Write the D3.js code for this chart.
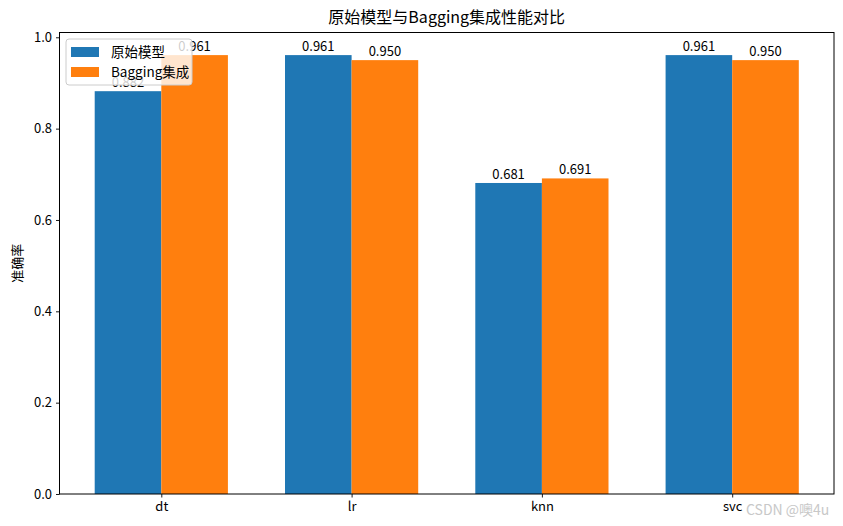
<!DOCTYPE html>
<html><head><meta charset="utf-8">
<script src="https://cdn.jsdelivr.net/npm/d3@7"></script>
<style>body{margin:0;background:#fff}svg{display:block}text{font-family:"Noto Sans CJK SC","DejaVu Sans",sans-serif}</style>
</head><body>
<script>
const categories = ["dt", "lr", "knn", "svc"];
const seriesNames = ["原始模型", "Bagging集成"];
const originalAcc = [0.882, 0.961, 0.681, 0.961];
const baggingAcc = [0.961, 0.950, 0.691, 0.950];
const yTicks = [0.0, 0.2, 0.4, 0.6, 0.8, 1.0];
const colors = ["#1f77b4", "#ff7f0e"];

const W = 843, H = 526;
const m = {left: 59.5, right: 834, top: 32.5, bottom: 494};
const svg = d3.select("body").append("svg").attr("width", W).attr("height", H);

const barW = 0.35;
const x = d3.scaleLinear().domain([-0.535, 3.535]).range([m.left, m.right]);
const y = d3.scaleLinear().domain([0, 1.0105]).range([m.bottom, m.top]);

const series = [originalAcc, baggingAcc];
series.forEach((vals, s) => {
  const g = svg.append("g");
  g.selectAll("rect").data(vals).join("rect")
    .attr("x", (d, i) => x(i + (s === 0 ? -barW : 0)))
    .attr("width", x(barW) - x(0))
    .attr("y", d => y(d))
    .attr("height", d => y(0) - y(d))
    .attr("fill", colors[s]);
  g.selectAll("text").data(vals).join("text")
    .attr("x", (d, i) => x(i + (s === 0 ? -barW / 2 : barW / 2)))
    .attr("y", d => y(d) - 4)
    .attr("text-anchor", "middle")
    .attr("font-size", 13)
    .attr("fill", "#000")
    .text(d => d.toFixed(3));
});

// axes
const xAxis = d3.axisBottom(x).tickValues(d3.range(categories.length)).tickFormat(i => categories[i]).tickSize(3.5).tickPadding(4);
const yAxis = d3.axisLeft(y).tickValues(yTicks).tickFormat(d3.format(".1f")).tickSize(3.5).tickPadding(4);
const gx = svg.append("g").attr("transform", `translate(0,${m.bottom})`).call(xAxis);
const gy = svg.append("g").attr("transform", `translate(${m.left},0)`).call(yAxis);
[gx, gy].forEach(g => {
  g.select(".domain").remove();
  g.selectAll("text").attr("font-size", 13).attr("fill", "#000");
  g.selectAll("line").attr("stroke", "#000").attr("stroke-width", 0.9);
});
svg.append("rect").attr("x", m.left).attr("y", m.top)
  .attr("width", m.right - m.left).attr("height", m.bottom - m.top)
  .attr("fill", "none").attr("stroke", "#000").attr("stroke-width", 1);

// title and label
svg.append("text").attr("x", (m.left + m.right) / 2).attr("y", 23)
  .attr("text-anchor", "middle").attr("font-size", 16).text("原始模型与Bagging集成性能对比");
svg.append("text").attr("transform", `translate(22,${(m.top + m.bottom) / 2}) rotate(-90)`)
  .attr("text-anchor", "middle").attr("font-size", 13).text("准确率");

// legend
const lg = svg.append("g").attr("transform", "translate(66,39)");
lg.append("rect").attr("width", 126).attr("height", 46).attr("rx", 3)
  .attr("fill", "#fff").attr("fill-opacity", 0.8).attr("stroke", "#ccc").attr("stroke-width", 1);
seriesNames.forEach((n, i) => {
  lg.append("rect").attr("x", 5).attr("y", 8 + i * 20).attr("width", 28).attr("height", 10).attr("fill", colors[i]);
  lg.append("text").attr("x", 45).attr("y", 18 + i * 20).attr("font-size", 13.5).text(n);
});

// watermark
svg.append("text").attr("x", 746).attr("y", 515).attr("font-size", 14)
  .attr("fill", "#c8c8c8").text("CSDN @噢4u");
</script>
</body></html>
